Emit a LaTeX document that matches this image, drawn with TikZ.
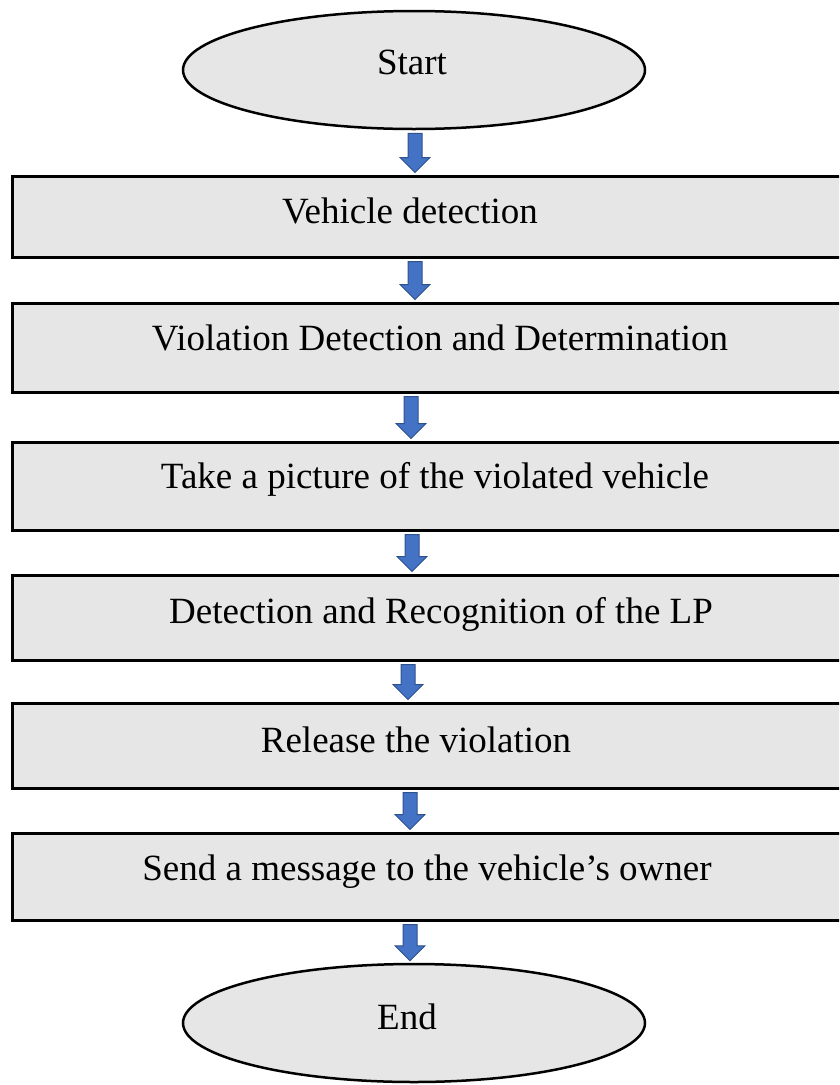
\documentclass[tikz,border=0pt]{standalone}
\usepackage{fontspec}
\setmainfont{Liberation Serif}
\usetikzlibrary{calc,shapes.geometric}
\definecolor{boxgray}{HTML}{E6E6E6}
\definecolor{arrowblue}{HTML}{4472C4}
\definecolor{arrowedge}{HTML}{2F528F}

% Block arrow between two stacked nodes: #1 = x of the shaft axis,
% #2 = node above, #3 = node below
\newcommand\blockarrow[3]{%
  \path[flow] let \p1=(#2.south), \p2=(#3.north) in
    ({#1pt-7pt},{\y1-3pt}) -- ({#1pt+7pt},{\y1-3pt}) --
    ({#1pt+7pt},{\y2+17pt}) -- ({#1pt+15pt},{\y2+17pt}) --
    ({#1pt},{\y2+2pt}) --
    ({#1pt-15pt},{\y2+17pt}) -- ({#1pt-7pt},{\y2+17pt}) -- cycle;}

\begin{document}
\begin{tikzpicture}[x=1pt,y=-1pt,
  stepbox/.style={draw=black, line width=3pt, fill=boxgray, rectangle,
    inner sep=0pt, minimum width=838pt},
  terminal/.style={draw=black, line width=2.5pt, fill=boxgray, ellipse,
    inner sep=0pt, minimum width=462pt, minimum height=118pt},
  steptext/.style={font=\fontsize{37}{44}\selectfont, inner sep=0pt, anchor=base},
  flow/.style={fill=arrowblue, draw=arrowedge, line width=1pt, line join=miter}]
\useasboundingbox (0,0) rectangle (839,1085);
\clip (0,0) rectangle (839,1085);

% terminals
\node[terminal] (start) at (414,70) {};
\node[terminal] (end) at (414,1023) {};

% process steps (they run off the right edge)
\node[stepbox, minimum height=81pt] (b1) at (431,216.5) {};
\node[stepbox, minimum height=89pt] (b2) at (431,347.5) {};
\node[stepbox, minimum height=88pt] (b3) at (431,486) {};
\node[stepbox, minimum height=85pt] (b4) at (431,617.5) {};
\node[stepbox, minimum height=85pt] (b5) at (431,745.5) {};
\node[stepbox, minimum height=87pt] (b6) at (431,876.5) {};

% labels
\node[steptext] (tstart) at (412,74) {Start};
\node[steptext] (t1) at (410,223) {Vehicle detection};
\node[steptext] (t2) at (440,350) {Violation Detection and Determination};
\node[steptext] (t3) at (435,488) {Take a picture of the violated vehicle};
\node[steptext] (t4) at (441,623) {Detection and Recognition of the LP};
\node[steptext] (t5) at (416,752) {Release the violation};
\node[steptext] (t6) at (427,880) {Send a message to the vehicle’s owner};
\node[steptext] (tend) at (407,1029) {End};

% flow arrows
\blockarrow{415}{start}{b1}
\blockarrow{415}{b1}{b2}
\blockarrow{411}{b2}{b3}
\blockarrow{412}{b3}{b4}
\blockarrow{408}{b4}{b5}
\blockarrow{410}{b5}{b6}
\blockarrow{410}{b6}{end}
\end{tikzpicture}
\end{document}
